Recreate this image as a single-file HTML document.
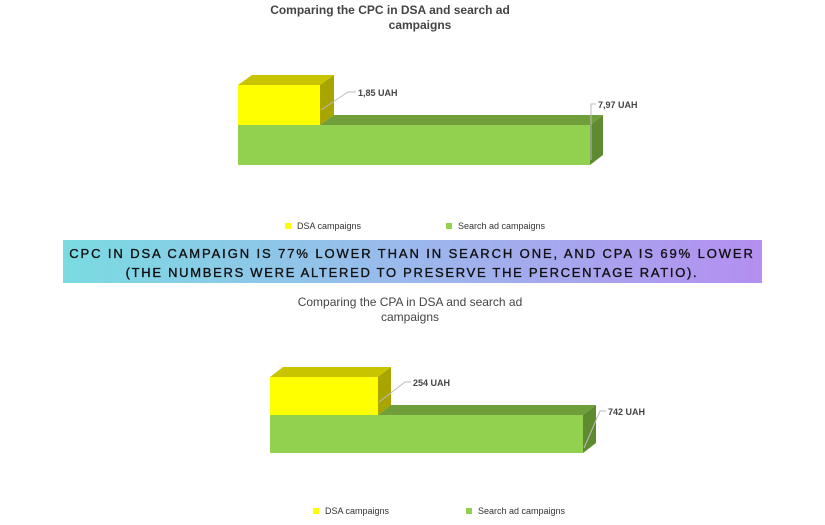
<!DOCTYPE html>
<html><head><meta charset="utf-8"><style>
body{margin:0;background:#fff;}
svg{display:block;font-family:"Liberation Sans",sans-serif;}
</style></head><body>
<svg width="825" height="525" viewBox="0 0 825 525">
<defs>
<linearGradient id="bg" x1="0" x2="1" y1="0" y2="0">
<stop offset="0" stop-color="#7adbe2"/><stop offset="0.5" stop-color="#9bb8ec"/><stop offset="1" stop-color="#b48ff0"/>
</linearGradient>
</defs>
<text x="390" y="14" font-size="12" font-weight="bold" fill="#444" text-anchor="middle">Comparing the CPC in DSA and search ad</text>
<text x="420" y="29" font-size="12" font-weight="bold" fill="#444" text-anchor="middle">campaigns</text>
<polygon points="238,85 252,75 334,75 320,85" fill="#c8c400"/>
<polygon points="320,85 334,75 334,115 320,125" fill="#a8a400"/>
<rect x="238" y="85" width="82" height="40" fill="#ffff00"/>
<polygon points="320,125 334,115 603,115 590,125" fill="#6f9e3a"/>
<polygon points="590,125 603,115 603,155 590,165" fill="#5e8a30"/>
<rect x="238" y="125" width="352" height="40" fill="#92d050"/>
<polyline points="321,110 348,92 356,92" fill="none" stroke="#bbb"/>
<text x="358" y="96" font-size="9" font-weight="bold" fill="#444">1,85 UAH</text>
<polyline points="591,160 591,104 596,104" fill="none" stroke="#bbb"/>
<text x="598" y="108" font-size="9" font-weight="bold" fill="#444">7,97 UAH</text>
<rect x="285" y="223" width="6" height="6" fill="#ffff00"/>
<text x="297" y="229" font-size="9" fill="#333">DSA campaigns</text>
<rect x="446" y="223" width="6" height="6" fill="#92d050"/>
<text x="458" y="229" font-size="9" fill="#333">Search ad campaigns</text>
<rect x="63" y="240" width="699" height="43" fill="url(#bg)"/>
<g fill="#111" stroke="#111" stroke-width="0.35" font-size="13" text-anchor="middle">
<text x="412" y="258" letter-spacing="1.9">CPC IN DSA CAMPAIGN IS 77% LOWER THAN IN SEARCH ONE, AND CPA IS 69% LOWER</text>
<text x="412" y="277" letter-spacing="1.7">(THE NUMBERS WERE ALTERED TO PRESERVE THE PERCENTAGE RATIO).</text>
</g>
<text x="410" y="306" font-size="12" fill="#444" text-anchor="middle">Comparing the CPA in DSA and search ad</text>
<text x="410" y="321" font-size="12" fill="#444" text-anchor="middle">campaigns</text>
<polygon points="270,377 283,367 391,367 378,377" fill="#c8c400"/>
<polygon points="378,377 391,367 391,405 378,415" fill="#a8a400"/>
<rect x="270" y="377" width="108" height="38" fill="#ffff00"/>
<polygon points="378,415 391,405 596,405 583,415" fill="#6f9e3a"/>
<polygon points="583,415 596,405 596,443 583,453" fill="#5e8a30"/>
<rect x="270" y="415" width="313" height="38" fill="#92d050"/>
<polyline points="379,402 405,382 411,382" fill="none" stroke="#bbb"/>
<text x="413" y="386" font-size="9" font-weight="bold" fill="#444">254 UAH</text>
<polyline points="584,448 600,411 606,411" fill="none" stroke="#bbb"/>
<text x="608" y="415" font-size="9" font-weight="bold" fill="#444">742 UAH</text>
<rect x="313" y="508" width="6" height="6" fill="#ffff00"/>
<text x="325" y="514" font-size="9" fill="#333">DSA campaigns</text>
<rect x="466" y="508" width="6" height="6" fill="#92d050"/>
<text x="478" y="514" font-size="9" fill="#333">Search ad campaigns</text>
</svg>
</body></html>
